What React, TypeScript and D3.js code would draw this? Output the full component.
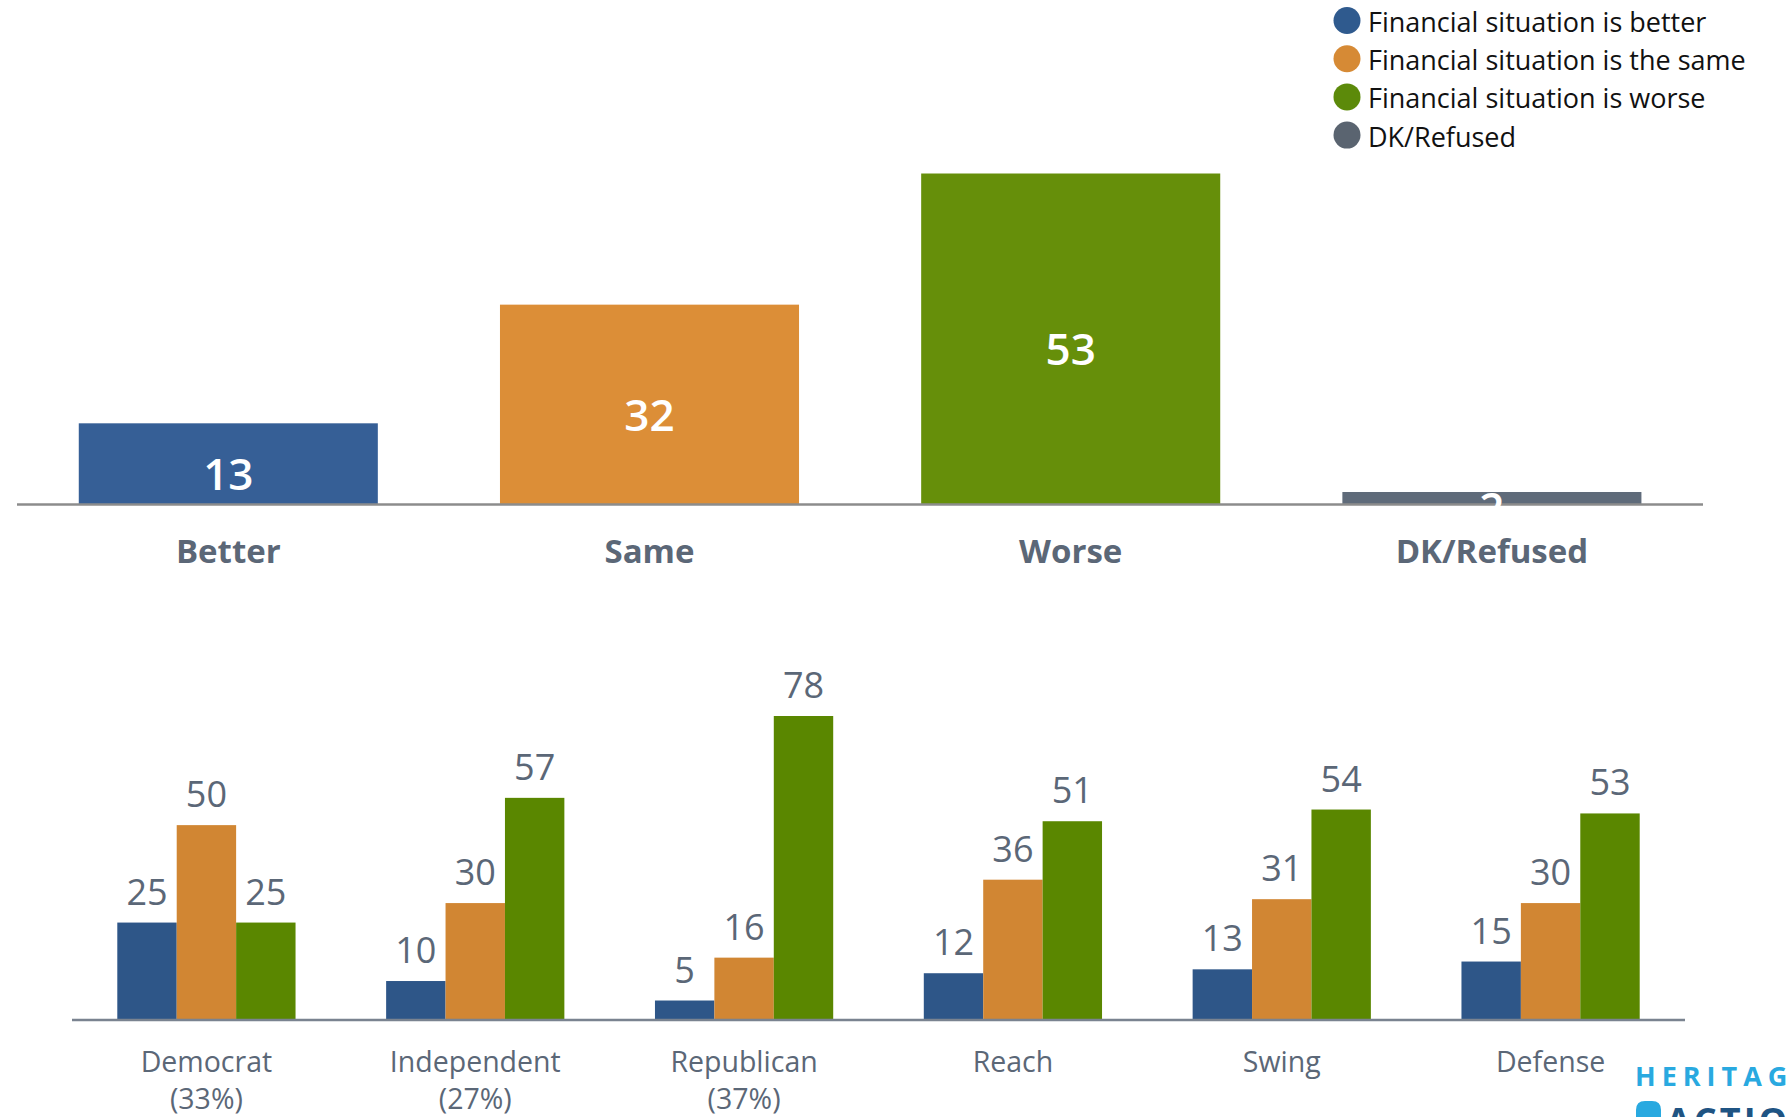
import React from "react";
import * as d3 from "d3";

const topCategories = ["Better", "Same", "Worse", "DK/Refused"];
const topValues = [13, 32, 53, 2];
const topColors = ["#365f96", "#dc8e37", "#668f0a", "#5f6b7a"];

const legendLabels = [
  "Financial situation is better",
  "Financial situation is the same",
  "Financial situation is worse",
  "DK/Refused",
];
const legendColors = ["#2f5a8e", "#d68a35", "#5c8a0a", "#5a6470"];

const groups = ["Democrat", "Independent", "Republican", "Reach", "Swing", "Defense"];
const groupSub = ["(33%)", "(27%)", "(37%)", "", "", ""];
const seriesKeys = ["better", "same", "worse"];
const betterVals = [25, 10, 5, 12, 13, 15];
const sameVals = [50, 30, 16, 36, 31, 30];
const worseVals = [25, 57, 78, 51, 54, 53];
const bottomColors = ["#2e5688", "#d18633", "#5a8700"];

const FONT = "'Open Sans', 'Noto Sans', sans-serif";
const LABEL_GRAY = "#5b6777";

export default function App() {
  const W = 1790;
  const H = 1117;

  // top chart
  const xTop = d3
    .scaleBand<string>()
    .domain(topCategories)
    .range([17.7, 1702.5])
    .paddingInner(0.29)
    .paddingOuter(0.145);
  const yTop = d3.scaleLinear().domain([0, 53]).range([504.5, 173.5]);

  // bottom chart
  const x0 = d3
    .scaleBand<string>()
    .domain(groups)
    .range([72, 1685])
    .paddingInner(0.337)
    .paddingOuter(0.1685);
  const x1 = d3
    .scaleBand<string>()
    .domain(seriesKeys)
    .range([0, x0.bandwidth()])
    .padding(0);
  const yBot = d3.scaleLinear().domain([0, 78]).range([1020, 716]);
  const seriesData = [betterVals, sameVals, worseVals];

  return (
    <svg
      width={W}
      height={H}
      style={{ position: "absolute", left: 0, top: 0, background: "#fff" }}
      fontFamily={FONT}
    >
      {/* Legend */}
      {legendLabels.map((lab, i) => {
        const cy = 20.5 + i * 38.2;
        return (
          <g key={lab}>
            <circle cx={1347} cy={cy} r={13.5} fill={legendColors[i]} />
            <text
              x={1368}
              y={cy + 1}
              dominantBaseline="central"
              fontSize={27}
              fill="#111"
            >
              {lab}
            </text>
          </g>
        );
      })}

      {/* Top bars */}
      {topCategories.map((c, i) => {
        const x = xTop(c)!;
        const y = yTop(topValues[i]);
        const h = yTop(0) - y;
        return (
          <rect key={c} x={x} y={y} width={xTop.bandwidth()} height={h} fill={topColors[i]} />
        );
      })}
      <line x1={17} x2={1703} y1={yTop(0)} y2={yTop(0)} stroke="#8c8c8c" strokeWidth={2.5} />
      {topCategories.map((c, i) => {
        const x = xTop(c)! + xTop.bandwidth() / 2;
        const mid = (yTop(topValues[i]) + yTop(0)) / 2;
        return (
          <text
            key={c + "v"}
            x={x}
            y={mid + 26}
            textAnchor="middle"
            fontSize={44}
            fontWeight={600}
            fill="#fff"
          >
            {topValues[i]}
          </text>
        );
      })}
      {topCategories.map((c) => (
        <text
          key={c + "l"}
          x={xTop(c)! + xTop.bandwidth() / 2}
          y={563}
          textAnchor="middle"
          fontSize={33}
          fontWeight={700}
          fill={LABEL_GRAY}
        >
          {c}
        </text>
      ))}

      {/* Bottom bars */}
      {groups.map((g, gi) => (
        <g key={g} transform={`translate(${x0(g)},0)`}>
          {seriesKeys.map((k, si) => {
            const v = seriesData[si][gi];
            const y = yBot(v);
            return (
              <rect
                key={k}
                x={x1(k)!}
                y={y}
                width={x1.bandwidth()}
                height={yBot(0) - y}
                fill={bottomColors[si]}
              />
            );
          })}
          {seriesKeys.map((k, si) => {
            const v = seriesData[si][gi];
            return (
              <text
                key={k + "t"}
                x={x1(k)! + x1.bandwidth() / 2}
                y={yBot(v) - 18}
                textAnchor="middle"
                fontSize={36}
                fill={LABEL_GRAY}
              >
                {v}
              </text>
            );
          })}
        </g>
      ))}
      <line x1={72} x2={1685} y1={yBot(0)} y2={yBot(0)} stroke="#7a8390" strokeWidth={2.5} />
      {groups.map((g, gi) => {
        const cx = x0(g)! + x0.bandwidth() / 2;
        return (
          <g key={g + "l"}>
            <text x={cx} y={1072} textAnchor="middle" fontSize={28.5} fill={LABEL_GRAY}>
              {g}
            </text>
            {groupSub[gi] && (
              <text x={cx} y={1109} textAnchor="middle" fontSize={28.5} fill={LABEL_GRAY}>
                {groupSub[gi]}
              </text>
            )}
          </g>
        );
      })}

      {/* Logo */}
      <text x={1635} y={1086} fontSize={27} fontWeight={700} fill="#29a9e0" letterSpacing={6}>
        HERITAGE
      </text>
      <path d="M1636,1128 L1636,1110 Q1636,1101 1645,1101 L1652,1101 Q1661,1101 1661,1110 L1661,1128 Z" fill="#29a9e0" />
      <text x={1666} y={1134} fontSize={36} fontWeight={700} fill="#1f5483" letterSpacing={3}>
        ACTION
      </text>
    </svg>
  );
}
